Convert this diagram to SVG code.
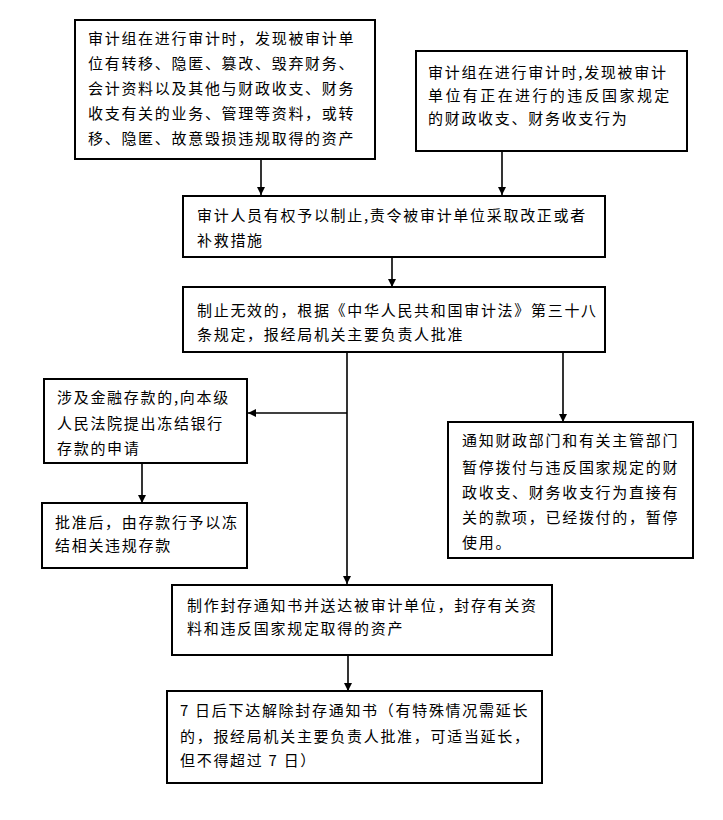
<svg xmlns="http://www.w3.org/2000/svg" width="723" height="820" viewBox="0 0 723 820">
<defs>
<style>
.box{fill:#fff;stroke:#000;stroke-width:2}
.t{font-family:"Noto Sans CJK SC","Noto Sans",sans-serif;font-size:15px;fill:#000;letter-spacing:1.7px}
.c{stroke:#000;stroke-width:1.6;fill:none;marker-end:url(#ah)}
</style>
<marker id="ah" viewBox="0 0 10 10" refX="10" refY="5" markerWidth="8" markerHeight="8" markerUnits="userSpaceOnUse" orient="auto">
<path d="M0,0 L10,5 L0,10 z" fill="#000"/>
</marker>
</defs>
<rect width="723" height="820" fill="#fff"/>
<g id="connectors">
<line class="c" x1="261" y1="159" x2="261" y2="195"/>
<line class="c" x1="502" y1="151" x2="502" y2="195"/>
<line class="c" x1="392" y1="257" x2="392" y2="287"/>
<line class="c" x1="347" y1="352" x2="347" y2="584"/>
<line class="c" x1="347" y1="413" x2="248" y2="413"/>
<line class="c" x1="563" y1="352" x2="563" y2="422"/>
<line class="c" x1="142" y1="463" x2="142" y2="503"/>
<line class="c" x1="348" y1="655" x2="348" y2="691"/>
</g>
<g id="n1">
<rect class="box" x="75" y="20" width="300" height="139"/>
<text class="t" x="88" y="44">审计组在进行审计时，发现被审计单</text>
<text class="t" x="88" y="69">位有转移、隐匿、篡改、毁弃财务、</text>
<text class="t" x="88" y="94">会计资料以及其他与财政收支、财务</text>
<text class="t" x="88" y="119">收支有关的业务、管理等资料，或转</text>
<text class="t" x="88" y="144">移、隐匿、故意毁损违规取得的资产</text>
</g>
<g id="n2">
<rect class="box" x="416" y="51" width="271" height="100"/>
<text class="t" x="428" y="78">审计组在进行审计时,发现被审计</text>
<text class="t" x="428" y="101" textLength="243" lengthAdjust="spacing">单位有正在进行的违反国家规定</text>
<text class="t" x="428" y="124">的财政收支、财务收支行为</text>
</g>
<g id="n3">
<rect class="box" x="183" y="196" width="422" height="61"/>
<text class="t" x="197" y="221">审计人员有权予以制止,责令被审计单位采取改正或者</text>
<text class="t" x="197" y="246">补救措施</text>
</g>
<g id="n4">
<rect class="box" x="183" y="287" width="422" height="65"/>
<text class="t" x="197" y="316">制止无效的，根据《中华人民共和国审计法》第三十八</text>
<text class="t" x="197" y="340">条规定，报经局机关主要负责人批准</text>
</g>
<g id="n5">
<rect class="box" x="44" y="379" width="203" height="84"/>
<text class="t" x="57" y="403">涉及金融存款的,向本级</text>
<text class="t" x="57" y="429">人民法院提出冻结银行</text>
<text class="t" x="57" y="454">存款的申请</text>
</g>
<g id="n6">
<rect class="box" x="42" y="503" width="205" height="65"/>
<text class="t" x="55" y="528">批准后，由存款行予以冻</text>
<text class="t" x="55" y="551">结相关违规存款</text>
</g>
<g id="n7">
<rect class="box" x="448" y="422" width="245" height="136"/>
<text class="t" x="462" y="446">通知财政部门和有关主管部门</text>
<text class="t" x="462" y="473">暂停拨付与违反国家规定的财</text>
<text class="t" x="462" y="498">政收支、财务收支行为直接有</text>
<text class="t" x="462" y="523">关的款项，已经拨付的，暂停</text>
<text class="t" x="462" y="548">使用。</text>
</g>
<g id="n8">
<rect class="box" x="172" y="585" width="380" height="70"/>
<text class="t" x="187" y="611">制作封存通知书并送达被审计单位，封存有关资</text>
<text class="t" x="187" y="634">料和违反国家规定取得的资产</text>
</g>
<g id="n9">
<rect class="box" x="167" y="691" width="375" height="92"/>
<text class="t" x="180" y="716">7 日后下达解除封存通知书（有特殊情况需延长</text>
<text class="t" x="180" y="742">的，报经局机关主要负责人批准，可适当延长，</text>
<text class="t" x="180" y="766">但不得超过 7 日）</text>
</g>
</svg>
